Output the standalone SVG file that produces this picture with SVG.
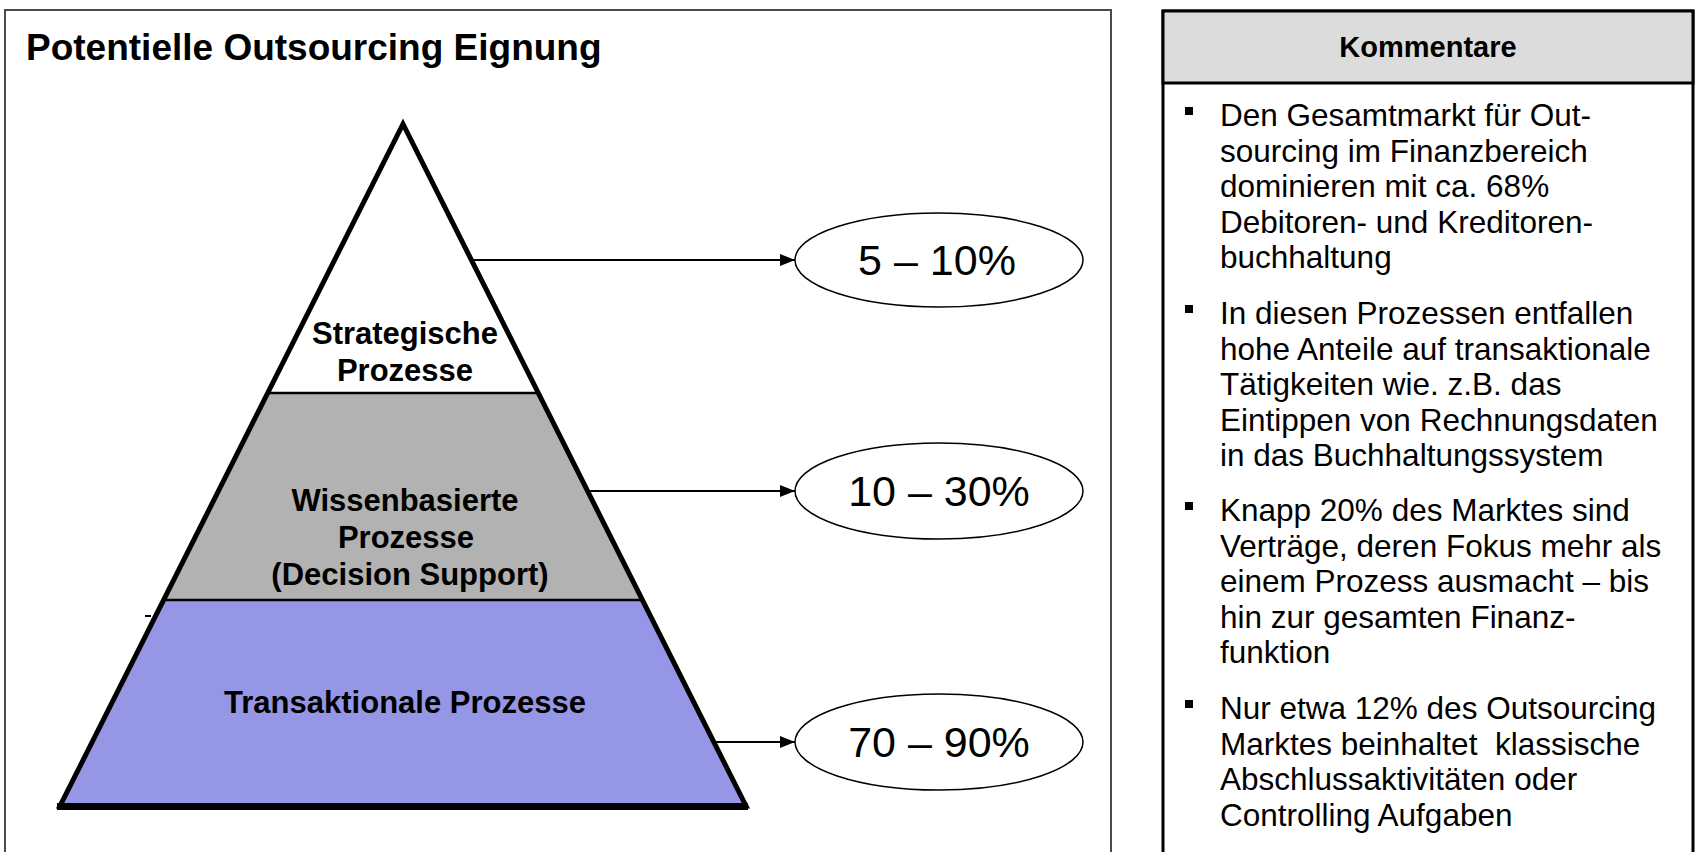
<svg xmlns="http://www.w3.org/2000/svg" width="1696" height="852" viewBox="0 0 1696 852">
  <style>
    .frame { fill: #ffffff; stroke: #4a4a4a; stroke-width: 2; }
    .panel { fill: #ffffff; stroke: #000000; stroke-width: 3; }
    .title { font-family: "Liberation Sans", Arial, sans-serif; font-weight: bold; font-size: 37px; fill: #000; }
    .layer-label { font-family: "Liberation Sans", Arial, sans-serif; font-weight: bold; font-size: 31px; fill: #000; text-anchor: middle; }
    .pct { font-family: "Liberation Sans", Arial, sans-serif; font-size: 43px; fill: #000; text-anchor: middle; }
    .oval { fill: #ffffff; stroke: #000; stroke-width: 1.5; }
    .head { font-family: "Liberation Sans", Arial, sans-serif; font-weight: bold; font-size: 29px; fill: #000; text-anchor: middle; }
    .body { font-family: "Liberation Sans", Arial, sans-serif; font-size: 31.5px; fill: #000; }
    .arrow { stroke: #000; stroke-width: 2; fill: none; marker-end: url(#arrowhead); }
    .divider { stroke: #000; stroke-width: 2.5; }
  </style>
  <defs>
    <marker id="arrowhead" markerUnits="userSpaceOnUse" markerWidth="16" markerHeight="12" refX="15" refY="6" orient="auto">
      <path d="M0,0 L15,6 L0,12 z" fill="#000"/>
    </marker>
  </defs>

  <!-- left frame with title -->
  <g id="frame-left">
    <rect class="frame" x="5" y="10" width="1106" height="870"/>
    <text class="title" x="26" y="60">Potentielle Outsourcing Eignung</text>
  </g>

  <!-- pyramid layers -->
  <g id="layer-strategic">
    <polygon points="403,124 538.3,393 267.7,393" fill="#ffffff"/>
    <text class="layer-label" x="405" y="344">Strategische</text>
    <text class="layer-label" x="405" y="381">Prozesse</text>
  </g>
  <g id="layer-knowledge">
    <polygon points="267.7,393 538.3,393 642.4,600 163.6,600" fill="#b2b2b2"/>
    <text class="layer-label" x="405" y="511">Wissenbasierte</text>
    <text class="layer-label" x="406" y="548">Prozesse</text>
    <text class="layer-label" x="410" y="585">(Decision Support)</text>
  </g>
  <g id="layer-transactional">
    <polygon points="163.6,600 642.4,600 746,806 60,806" fill="#9696e6"/>
    <text class="layer-label" x="405" y="713">Transaktionale Prozesse</text>
  </g>
  <g id="pyramid-outline">
    <line class="divider" x1="267.7" y1="393" x2="538.3" y2="393"/>
    <line class="divider" x1="163.6" y1="600" x2="642.4" y2="600"/>
    <polygon points="403,124 746,806 60,806" fill="none" stroke="#000" stroke-width="5" stroke-linejoin="miter"/>
    <line x1="57" y1="806.5" x2="748" y2="806.5" stroke="#000" stroke-width="7"/>
    <line x1="145" y1="616" x2="151" y2="616" stroke="#000" stroke-width="2"/>
  </g>

  <!-- share ovals -->
  <g id="share-strategic">
    <ellipse class="oval" cx="939" cy="260" rx="144" ry="47"/>
    <text class="pct" x="937" y="275">5 – 10%</text>
  </g>
  <g id="share-knowledge">
    <ellipse class="oval" cx="939" cy="491" rx="144" ry="48"/>
    <text class="pct" x="939" y="506">10 – 30%</text>
  </g>
  <g id="share-transactional">
    <ellipse class="oval" cx="939" cy="742" rx="144" ry="48"/>
    <text class="pct" x="939" y="757">70 – 90%</text>
  </g>

  <!-- connectors -->
  <g id="connectors">
    <line class="arrow" x1="472" y1="260" x2="795" y2="260"/>
    <line class="arrow" x1="588" y1="491" x2="795" y2="491"/>
    <line class="arrow" x1="716" y1="742" x2="795" y2="742"/>
  </g>

  <!-- comments panel -->
  <g id="comments">
    <rect class="panel" x="1163" y="11" width="530" height="870"/>
    <rect x="1163" y="11" width="530" height="72" fill="#dcdcdc" stroke="#000" stroke-width="3"/>
    <text class="head" x="1428" y="57">Kommentare</text>
    <g fill="#000">
      <rect x="1185" y="107" width="8" height="8"/>
      <rect x="1185" y="305" width="8" height="8"/>
      <rect x="1185" y="502" width="8" height="8"/>
      <rect x="1185" y="700" width="8" height="8"/>
    </g>
    <text class="body">
      <tspan x="1220" y="126">Den Gesamtmarkt für Out-</tspan>
      <tspan x="1220" y="161.5">sourcing im Finanzbereich</tspan>
      <tspan x="1220" y="197">dominieren mit ca. 68%</tspan>
      <tspan x="1220" y="232.5">Debitoren- und Kreditoren-</tspan>
      <tspan x="1220" y="268">buchhaltung</tspan>
      <tspan x="1220" y="324">In diesen Prozessen entfallen</tspan>
      <tspan x="1220" y="359.5">hohe Anteile auf transaktionale</tspan>
      <tspan x="1220" y="395">Tätigkeiten wie. z.B. das</tspan>
      <tspan x="1220" y="430.5">Eintippen von Rechnungsdaten</tspan>
      <tspan x="1220" y="466">in das Buchhaltungssystem</tspan>
      <tspan x="1220" y="521">Knapp 20% des Marktes sind</tspan>
      <tspan x="1220" y="556.5">Verträge, deren Fokus mehr als</tspan>
      <tspan x="1220" y="592">einem Prozess ausmacht – bis</tspan>
      <tspan x="1220" y="627.5">hin zur gesamten Finanz-</tspan>
      <tspan x="1220" y="663">funktion</tspan>
      <tspan x="1220" y="719">Nur etwa 12% des Outsourcing</tspan>
      <tspan x="1220" y="754.5" xml:space="preserve">Marktes beinhaltet  klassische</tspan>
      <tspan x="1220" y="790">Abschlussaktivitäten oder</tspan>
      <tspan x="1220" y="825.5">Controlling Aufgaben</tspan>
    </text>
  </g>
</svg>
